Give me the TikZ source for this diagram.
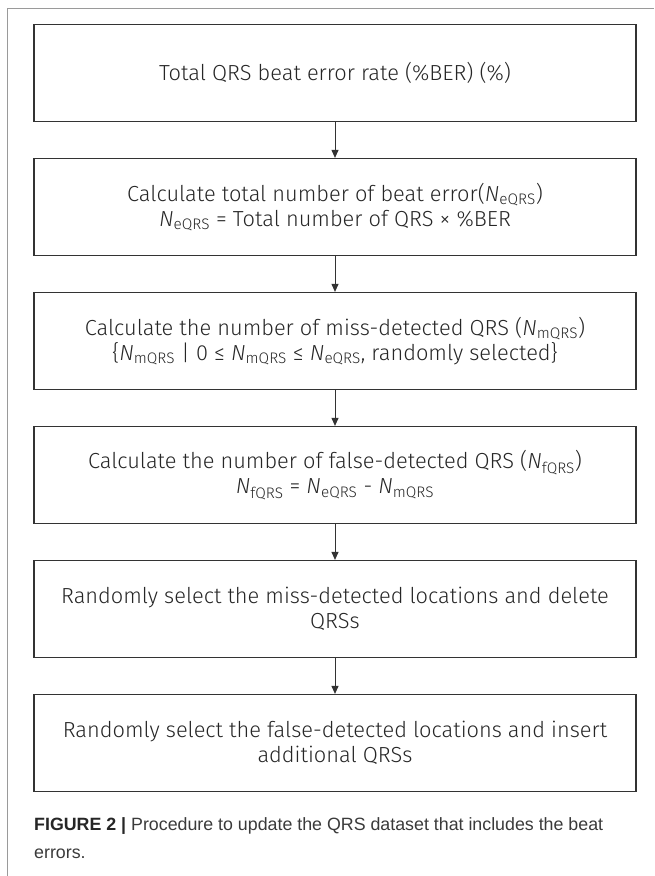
\documentclass[tikz,border=0pt]{standalone}
\usepackage{fontspec}
\setmainfont{Fira Sans Light}[ItalicFont={Fira Sans Light Italic}, BoldFont={Fira Sans}]
\newfontfamily\capfont{Liberation Sans}
\usetikzlibrary{arrows.meta}
\definecolor{boxline}{HTML}{333333}
\definecolor{txt}{HTML}{262626}
\definecolor{framegray}{HTML}{9A9A9A}
\definecolor{captxt}{HTML}{3A3A3A}
\newcommand{\Nq}[1]{\textit{N}\textsubscript{#1}}
\begin{document}
\begin{tikzpicture}[x=1pt,y=-1pt,
  stepbox/.style={draw=boxline, line width=1.2pt, minimum width=602pt, minimum height=97pt,
    align=center, text=txt, font=\fontsize{21.8}{25}\selectfont, inner sep=0pt},
  flow/.style={draw=boxline, line width=1pt, -{Triangle[length=8pt,width=7pt]}}]
\useasboundingbox (0,0) rectangle (654,876);
\draw[framegray, line width=0.9pt] (7,876) -- (7,8) -- (654,8);
\node[stepbox] (b1) at (335,73) {Total QRS beat error rate (\%BER) (\%)};
\node[stepbox] (b2) at (335,207) {Calculate total number of beat error(\Nq{eQRS})\\
  \Nq{eQRS} = Total number of QRS × \%BER};
\node[stepbox] (b3) at (335,341) {Calculate the number of miss-detected QRS (\Nq{mQRS})\\
  \{\Nq{mQRS} | 0 ≤ \Nq{mQRS} ≤ \Nq{eQRS}, randomly selected\}};
\node[stepbox] (b4) at (335,475) {Calculate the number of false-detected QRS (\Nq{fQRS})\\
  \Nq{fQRS} = \Nq{eQRS} - \Nq{mQRS}};
\node[stepbox] (b5) at (335,609) {Randomly select the miss-detected locations and delete\\ QRSs};
\node[stepbox] (b6) at (335,743) {Randomly select the false-detected locations and insert\\ additional QRSs};
\draw[flow] (b1) -- (b2);
\draw[flow] (b2) -- (b3);
\draw[flow] (b3) -- (b4);
\draw[flow] (b4) -- (b5);
\draw[flow] (b5) -- (b6);
\node[anchor=west, align=left, inner sep=0pt, text=captxt,
  font=\capfont\fontsize{17.8}{28.5}\selectfont] (cap) at (34,838)
  {{\bfseries\color{black!85}FIGURE 2 |} Procedure to update the QRS dataset that includes the beat\\ errors.};
\end{tikzpicture}
\end{document}
